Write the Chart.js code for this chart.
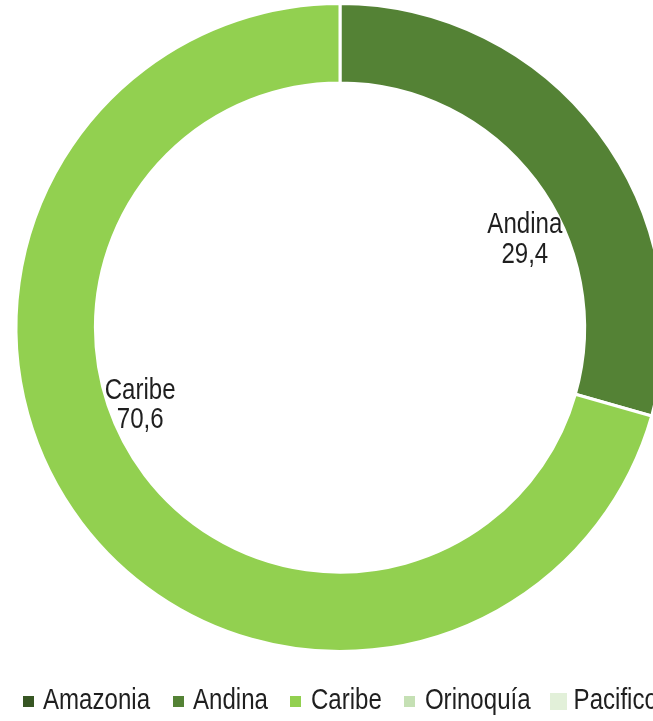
<!DOCTYPE html>
<html>
<head>
<meta charset="utf-8">
<script src="https://cdn.jsdelivr.net/npm/chart.js@4/dist/chart.umd.min.js"></script>
<style>
  html, body { margin: 0; padding: 0; background: #fff; overflow: hidden; }
  body { width: 653px; height: 721px; position: relative; }
  #chart { position: absolute; left: 0; top: 0; }
</style>
</head>
<body>
<canvas id="chart" width="680" height="721"></canvas>
<script>
// Regional shares (%)
const regions = ['Amazonia', 'Andina', 'Caribe', 'Orinoquía', 'Pacifico'];
const shares = [0, 29.4, 70.6, 0, 0];
const regionColors = ['#375623', '#548235', '#92D050', '#C5E0B4', '#E2F0D9'];

// Label placement relative to the middle of each slice (px)
const labelNudge = [[0, 0], [-42, 69], [27, -108], [0, 0], [0, 0]];
// Legend key sizes (px)
const keySize = [11, 11, 11, 11, 17];

const FONT = '"Liberation Sans", Arial, sans-serif';
const FONT_SIZE = 29;
const SQUEEZE = 0.83;   // narrow look for all text
const TEXT_COLOR = '#1f1f1f';

// fillText with horizontal compression, returns drawn width
function narrowText(ctx, text, x, y) {
    const w = ctx.measureText(text).width * SQUEEZE;
    ctx.fillText(text, x, y, w);
    return w;
}

// "name / value" labels for the non-empty slices
const sliceLabels = {
    id: 'sliceLabels',
    afterDatasetsDraw(chart) {
        const ctx = chart.ctx;
        const meta = chart.getDatasetMeta(0);
        ctx.save();
        ctx.font = FONT_SIZE + 'px ' + FONT;
        ctx.fillStyle = TEXT_COLOR;
        ctx.textAlign = 'center';
        ctx.textBaseline = 'middle';
        meta.data.forEach((arc, i) => {
            const v = shares[i];
            if (!v) return;
            const mid = (arc.startAngle + arc.endAngle) / 2;
            const r = (arc.innerRadius + arc.outerRadius) / 2;
            const x = arc.x + r * Math.cos(mid) + labelNudge[i][0];
            const y = arc.y + r * Math.sin(mid) + labelNudge[i][1];
            narrowText(ctx, regions[i], x, y);
            narrowText(ctx, v.toFixed(1).replace('.', ','), x, y + 29.5);
        });
        ctx.restore();
    }
};

// legend row under the ring
const bottomLegend = {
    id: 'bottomLegend',
    afterDraw(chart) {
        const ctx = chart.ctx;
        const baseY = chart.chartArea.bottom + 54;
        const keyY = baseY - 8;
        let x = 43;
        ctx.save();
        ctx.font = FONT_SIZE + 'px ' + FONT;
        ctx.textAlign = 'left';
        ctx.textBaseline = 'alphabetic';
        regions.forEach((name, i) => {
            const s = keySize[i];
            ctx.fillStyle = regionColors[i];
            ctx.fillRect(Math.round(x - 15 - s / 2), Math.round(keyY - s / 2), s, s);
            ctx.fillStyle = TEXT_COLOR;
            const w = narrowText(ctx, name, x, baseY);
            x += w + 43;
        });
        ctx.restore();
    }
};

const chart = new Chart(document.getElementById('chart'), {
    type: 'doughnut',
    data: {
        labels: regions,
        datasets: [{
            data: shares,
            backgroundColor: regionColors,
            borderColor: '#ffffff',
            borderWidth: 3,
            hoverOffset: 0
        }]
    },
    options: {
        responsive: false,
        animation: false,
        devicePixelRatio: 1,
        radius: 324,
        cutout: '75.5%',
        layout: { padding: { left: 0, right: 0, top: 0, bottom: 66 } },
        plugins: {
            tooltip: { enabled: false },
            legend: { display: false }
        }
    },
    plugins: [sliceLabels, bottomLegend]
});
</script>
</body>
</html>
